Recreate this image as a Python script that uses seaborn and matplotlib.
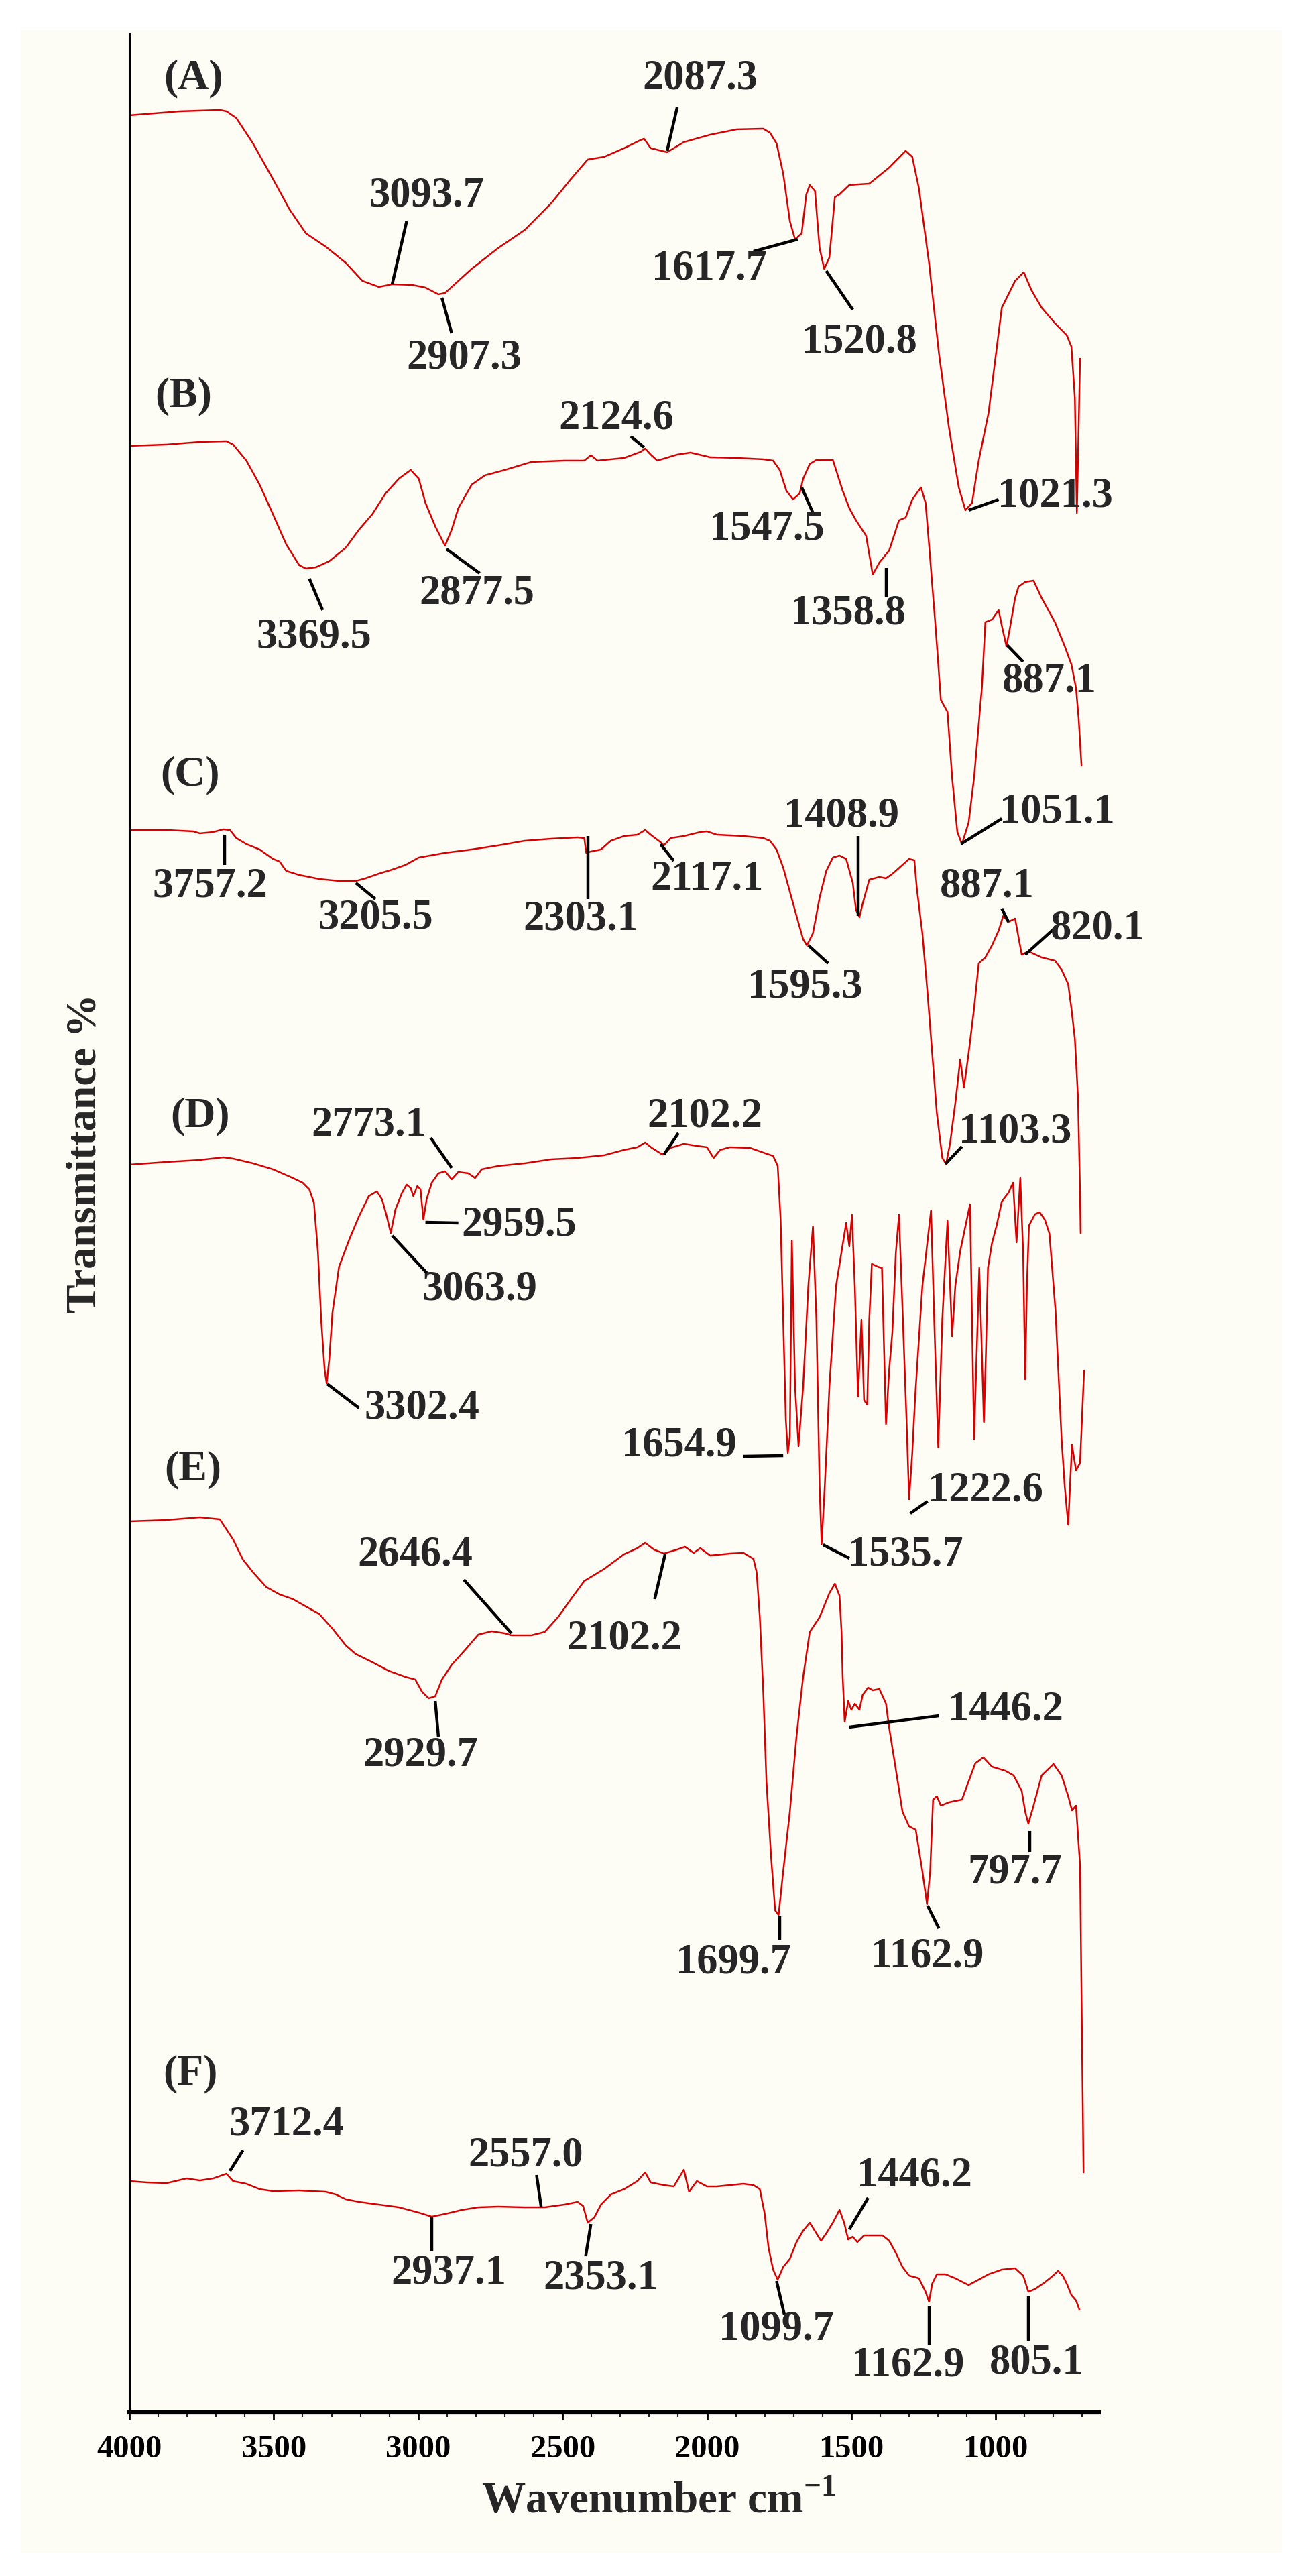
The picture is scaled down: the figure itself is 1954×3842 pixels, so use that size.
import matplotlib
matplotlib.use("Agg")
import matplotlib.pyplot as plt
from matplotlib.patches import Rectangle
from matplotlib.ticker import MultipleLocator
import seaborn as sns

sns.set_theme(style="white")
plt.rcParams["font.family"] = ["Liberation Serif", "DejaVu Serif"]
plt.rcParams["font.weight"] = "bold"
plt.rcParams["mathtext.fontset"] = "custom"
plt.rcParams["mathtext.rm"] = "Liberation Serif:bold"
plt.rcParams["mathtext.bf"] = "Liberation Serif:bold"

# spectra (wavenumber cm-1, stacked transmittance in arbitrary units)
wn_a = [3999, 3825, 3687, 3664, 3630, 3572, 3503, 3446, 3389, 3320, 3251, 3193, 3136, 3090, 3021,
        2975, 2930, 2907, 2861, 2815, 2723, 2631, 2539, 2471, 2413, 2356, 2287, 2230, 2218, 2195,
        2138, 2080, 1989, 1897, 1805, 1782, 1759, 1736, 1713, 1695, 1672, 1656, 1644, 1626, 1610,
        1594, 1576, 1557, 1541, 1507, 1438, 1369, 1312, 1289, 1266, 1231, 1197, 1162, 1128, 1105,
        1082, 1059, 1025, 979, 933, 903, 876, 841, 795, 754, 738, 726, 719, 708]
tr_a = [342.6, 343.2, 343.4, 343.2, 342.2, 338.4, 333.1, 328.6, 325.0, 323.0, 320.6, 317.9, 317.0, 317.4, 317.3,
        316.9, 315.9, 316.1, 317.9, 319.7, 322.8, 325.5, 329.5, 333.1, 336.0, 336.4, 337.7, 338.9, 339.1, 337.7,
        337.1, 338.6, 339.7, 340.5, 340.6, 340.0, 338.4, 333.9, 326.8, 324.1, 325.0, 330.8, 332.2, 331.3, 322.8,
        319.7, 321.4, 330.4, 330.8, 332.2, 332.4, 334.8, 337.3, 336.4, 331.7, 320.6, 307.2, 296.0, 287.1, 283.7,
        284.8, 291.1, 298.2, 313.9, 317.9, 319.2, 316.5, 313.9, 311.6, 309.8, 308.1, 300.5, 283.3, 306.3]

wn_b = [3999, 3871, 3756, 3664, 3641, 3595, 3549, 3503, 3457, 3412, 3389, 3354, 3308, 3251, 3205,
        3159, 3113, 3067, 3026, 2998, 2975, 2941, 2907, 2884, 2861, 2815, 2769, 2700, 2608, 2494,
        2425, 2402, 2379, 2287, 2230, 2214, 2195, 2172, 2103, 2057, 1989, 1897, 1805, 1771, 1748,
        1725, 1702, 1679, 1667, 1644, 1621, 1564, 1553, 1530, 1507, 1484, 1449, 1426, 1403, 1369,
        1335, 1312, 1289, 1259, 1243, 1231, 1208, 1190, 1167, 1151, 1133, 1117, 1094, 1075, 1048,
        1036, 1013, 990, 979, 963, 951, 933, 921, 898, 869, 841, 795, 761, 738, 722, 713, 703]
tr_b = [293.3, 293.5, 293.9, 294.0, 293.5, 291.1, 287.5, 283.1, 278.6, 275.5, 275.0, 275.2, 276.1, 278.1, 280.8,
        283.1, 286.2, 288.4, 289.7, 288.4, 284.8, 281.3, 278.4, 280.8, 284.0, 287.5, 288.9, 289.7, 290.9, 291.1,
        291.1, 291.9, 291.1, 291.5, 292.4, 292.9, 292.0, 291.1, 292.0, 292.3, 291.6, 291.5, 291.3, 291.1, 289.7,
        286.6, 285.3, 286.2, 288.4, 290.6, 291.2, 291.2, 289.7, 286.6, 284.0, 282.2, 279.9, 274.1, 275.9, 277.7,
        282.2, 282.6, 285.3, 287.1, 284.8, 278.6, 266.1, 255.4, 253.6, 243.8, 235.7, 233.9, 237.1, 243.8, 257.2,
        267.0, 267.4, 268.8, 266.5, 263.4, 266.1, 270.6, 272.3, 273.0, 273.2, 270.6, 267.0, 263.4, 260.7, 257.2,
        252.7, 245.6]

wn_c = [3999, 3871, 3779, 3756, 3710, 3675, 3652, 3630, 3595, 3549, 3503, 3480, 3457, 3412, 3343,
        3274, 3216, 3182, 3136, 3090, 3044, 2998, 2907, 2815, 2723, 2631, 2539, 2448, 2425, 2418,
        2402, 2367, 2333, 2287, 2241, 2214, 2195, 2161, 2149, 2126, 2080, 2023, 2000, 1966, 1874,
        1805, 1782, 1759, 1736, 1713, 1690, 1667, 1654, 1633, 1610, 1587, 1564, 1541, 1518, 1495,
        1484, 1472, 1461, 1438, 1403, 1380, 1357, 1323, 1300, 1282, 1273, 1254, 1236, 1220, 1204,
        1185, 1172, 1158, 1139, 1123, 1110, 1094, 1075, 1059, 1036, 1013, 990, 974, 956, 933,
        910, 887, 841, 795, 772, 749, 738, 726, 715, 708, 706]
tr_c = [236.0, 236.0, 235.8, 235.5, 235.7, 236.1, 236.0, 234.8, 233.9, 233.1, 231.7, 231.3, 229.9, 229.3, 228.7,
        228.4, 228.4, 228.8, 229.5, 230.1, 230.8, 231.9, 232.6, 233.1, 233.7, 234.4, 234.7, 234.9, 234.8, 232.6,
        232.8, 233.1, 234.4, 235.1, 235.3, 236.0, 235.3, 234.2, 233.7, 234.8, 235.1, 235.7, 235.8, 235.3, 235.1,
        234.8, 234.4, 233.1, 230.4, 226.8, 223.2, 219.7, 218.8, 220.6, 225.9, 229.9, 231.9, 232.2, 231.7, 228.1,
        224.1, 223.0, 225.0, 228.6, 229.0, 228.8, 229.5, 230.8, 231.7, 231.5, 227.2, 220.6, 211.6, 202.7, 193.8,
        187.1, 186.2, 189.3, 195.6, 201.8, 197.6, 202.7, 209.4, 216.1, 217.0, 218.8, 221.0, 223.2, 222.3, 222.8,
        217.4, 217.9, 217.0, 216.5, 215.2, 213.0, 209.4, 204.9, 196.0, 181.8, 175.9]

wn_d = [3999, 3871, 3756, 3675, 3641, 3572, 3503, 3434, 3400, 3377, 3361, 3347, 3336, 3324, 3317,
        3308, 3297, 3274, 3239, 3205, 3171, 3143, 3125, 3109, 3095, 3079, 3056, 3040, 3026, 3017,
        3003, 2992, 2982, 2971, 2953, 2930, 2907, 2884, 2861, 2826, 2803, 2780, 2723, 2631, 2539,
        2448, 2356, 2287, 2241, 2214, 2191, 2154, 2126, 2080, 2035, 2000, 1977, 1954, 1920, 1851,
        1805, 1771, 1755, 1745, 1736, 1727, 1720, 1713, 1706, 1695, 1683, 1667, 1649, 1633, 1621,
        1610, 1603, 1592, 1576, 1553, 1518, 1507, 1498, 1488, 1477, 1465, 1456, 1445, 1438, 1429,
        1410, 1394, 1380, 1369, 1358, 1346, 1335, 1321, 1309, 1300, 1289, 1279, 1254, 1224, 1213,
        1199, 1185, 1167, 1151, 1140, 1123, 1105, 1089, 1082, 1075, 1066, 1057, 1048, 1041, 1034,
        1027, 1013, 997, 979, 956, 940, 928, 915, 905, 898, 892, 885, 864, 848, 830,
        814, 793, 772, 761, 749, 736, 722, 708, 694]
tr_d = [186.1, 186.5, 186.8, 187.2, 187.0, 186.3, 185.4, 184.1, 183.4, 182.4, 180.4, 172.9, 163.0, 155.5, 153.5,
        157.0, 164.0, 170.9, 174.9, 178.4, 181.4, 182.1, 180.9, 178.4, 175.9, 179.4, 181.9, 183.1, 182.6, 181.4,
        182.9, 182.4, 177.9, 180.9, 183.4, 184.8, 185.1, 183.9, 185.0, 184.8, 184.1, 185.4, 185.9, 186.3, 186.9,
        187.1, 187.5, 188.3, 188.7, 189.4, 188.6, 187.6, 188.6, 189.2, 188.9, 188.7, 187.1, 188.3, 188.7, 188.6,
        187.9, 187.4, 185.9, 177.9, 163.0, 148.1, 143.1, 145.6, 174.8, 153.0, 144.1, 153.0, 168.0, 176.9, 163.0,
        138.1, 129.5, 138.1, 153.0, 168.0, 177.4, 173.9, 178.6, 168.0, 151.5, 163.0, 151.0, 150.3, 163.0, 171.3,
        170.9, 170.7, 147.4, 155.5, 161.1, 172.9, 178.6, 162.4, 148.1, 136.2, 143.1, 151.5, 168.0, 179.3, 163.0,
        143.9, 163.0, 177.7, 160.5, 168.0, 173.2, 176.9, 180.2, 163.0, 145.2, 158.0, 170.7, 158.0, 147.7, 158.0,
        170.7, 174.4, 177.0, 180.6, 181.9, 183.4, 174.5, 184.1, 172.9, 154.1, 168.0, 177.0, 178.7, 179.0, 177.9,
        175.8, 164.3, 145.2, 138.1, 132.4, 144.3, 140.5, 141.6, 155.4]

wn_e = [3999, 3871, 3756, 3687, 3641, 3607, 3572, 3526, 3480, 3434, 3389, 3343, 3297, 3251, 3216,
        3159, 3102, 3044, 3010, 2987, 2964, 2941, 2918, 2884, 2838, 2792, 2746, 2700, 2677, 2608,
        2562, 2516, 2471, 2425, 2356, 2287, 2241, 2214, 2184, 2149, 2103, 2076, 2046, 2023, 1989,
        1920, 1874, 1839, 1828, 1817, 1805, 1794, 1778, 1764, 1752, 1736, 1713, 1690, 1667, 1644,
        1610, 1576, 1557, 1541, 1534, 1530, 1523, 1511, 1500, 1488, 1472, 1461, 1442, 1426, 1403,
        1380, 1369, 1346, 1323, 1300, 1277, 1254, 1238, 1227, 1217, 1204, 1190, 1162, 1117, 1094,
        1071, 1043, 1013, 967, 938, 910, 898, 887, 869, 841, 800, 772, 749, 736, 722, 708, 696]
tr_e = [132.9, 133.1, 133.5, 133.2, 130.2, 127.2, 125.3, 123.1, 122.0, 121.3, 120.2, 119.1, 116.9, 114.4, 113.1,
        111.9, 110.6, 109.7, 109.3, 107.5, 106.5, 106.8, 109.3, 111.5, 113.7, 116.0, 116.5, 116.2, 115.9, 115.9,
        116.4, 118.6, 121.3, 124.0, 125.8, 128.0, 128.9, 129.7, 128.7, 128.1, 128.7, 129.1, 128.2, 128.9, 127.8,
        128.1, 128.2, 127.3, 125.3, 118.6, 107.5, 94.1, 82.9, 74.9, 74.2, 80.7, 89.6, 100.8, 109.7, 116.4,
        118.6, 122.2, 123.6, 121.8, 116.4, 109.7, 103.0, 106.1, 104.8, 105.7, 104.8, 107.0, 108.1, 107.7, 107.9,
        105.7, 102.1, 95.9, 89.6, 87.4, 86.9, 80.7, 75.8, 80.7, 91.4, 91.9, 90.5, 91.0, 91.4, 94.1,
        96.8, 97.7, 96.3, 95.7, 95.0, 92.7, 89.6, 87.8, 90.5, 95.0, 96.7, 95.0, 91.9, 89.8, 90.5, 81.6, 35.8]

wn_f = [3999, 3939, 3871, 3802, 3756, 3710, 3664, 3641, 3595, 3549, 3503, 3412, 3320, 3285, 3251,
        3205, 3136, 3067, 2998, 2953, 2907, 2849, 2792, 2723, 2631, 2562, 2494, 2448, 2429, 2413,
        2390, 2367, 2333, 2287, 2241, 2214, 2195, 2149, 2115, 2080, 2062, 2035, 2000, 1966, 1920,
        1874, 1839, 1817, 1800, 1787, 1771, 1755, 1736, 1713, 1690, 1667, 1644, 1621, 1605, 1587,
        1564, 1541, 1525, 1511, 1495, 1479, 1456, 1426, 1392, 1369, 1346, 1323, 1300, 1266, 1243,
        1231, 1220, 1204, 1174, 1140, 1094, 1059, 1025, 979, 933, 905, 887, 864, 830, 807,
        784, 768, 754, 738, 722, 710]
tr_f = [34.5, 34.3, 34.2, 34.9, 34.6, 34.9, 35.6, 34.5, 34.1, 33.3, 33.0, 33.1, 32.9, 32.5, 31.8,
        31.4, 31.0, 30.6, 29.8, 29.2, 29.6, 30.2, 30.6, 30.7, 30.6, 30.6, 31.0, 31.4, 30.8, 28.3,
        29.1, 31.0, 32.5, 33.3, 34.5, 35.8, 34.3, 33.9, 33.7, 36.2, 32.9, 34.5, 33.7, 33.7, 33.9,
        34.1, 33.9, 33.3, 29.6, 24.6, 21.3, 19.8, 21.7, 22.9, 25.4, 27.1, 28.3, 26.7, 25.6, 26.7,
        28.3, 30.2, 28.3, 25.8, 26.2, 25.4, 26.4, 26.4, 26.4, 25.6, 23.8, 21.7, 20.4, 20.0, 18.0,
        16.5, 19.2, 20.6, 20.6, 20.0, 19.0, 19.8, 20.6, 21.3, 21.5, 20.4, 18.0, 18.4, 19.4, 20.2,
        21.1, 20.4, 19.2, 17.5, 16.7, 15.3]

spectra = [(wn_a, tr_a), (wn_b, tr_b), (wn_c, tr_c), (wn_d, tr_d), (wn_e, tr_e), (wn_f, tr_f)]

# panel letters: text, x, y
panel_labels = [("(A)", 3779, 348.0), ("(B)", 3813, 300.7), ("(C)", 3790, 244.2),
                ("(D)", 3756, 193.3), ("(E)", 3779, 140.6), ("(F)", 3790, 50.5)]

# peak labels: text, text x, text y, leader line x0, y0, x1, y1
peak_labels = [
    ("2087.3", 2023, 348.0, 2103, 343.8, 2138, 337.3),
    ("3093.7", 2971, 330.5, 3040, 326.8, 3090, 317.4),
    ("2907.3", 2842, 306.3, 2918, 315.4, 2884, 310.1),
    ("1617.7", 1993, 319.6, 1839, 322.3, 1686, 324.1),
    ("1520.8", 1472, 308.7, 1587, 319.4, 1495, 313.6),
    ("1021.3", 795, 285.7, 990, 285.3, 1094, 283.7),
    ("2124.6", 2314, 297.3, 2264, 294.7, 2218, 293.1),
    ("3369.5", 3361, 264.7, 3377, 273.5, 3331, 268.8),
    ("2877.5", 2796, 271.2, 2902, 277.9, 2787, 274.3),
    ("1547.5", 1793, 280.8, 1672, 287.1, 1633, 283.3),
    ("1358.8", 1511, 268.2, 1380, 275.1, 1380, 270.8),
    ("887.1", 814, 258.1, 961, 263.6, 905, 261.1),
    ("1051.1", 788, 238.6, 979, 237.7, 1121, 233.9),
    ("3757.2", 3721, 227.5, 3671, 235.3, 3671, 230.8),
    ("3205.5", 3148, 222.8, 3216, 228.1, 3148, 225.7),
    ("2303.1", 2436, 222.6, 2413, 235.1, 2413, 225.7),
    ("2117.1", 2000, 228.6, 2161, 233.9, 2115, 231.4),
    ("1408.9", 1534, 238.0, 1477, 235.1, 1477, 223.2),
    ("1595.3", 1660, 212.5, 1649, 218.8, 1580, 216.1),
    ("887.1", 1029, 227.5, 979, 224.3, 956, 222.3),
    ("820.1", 646, 221.2, 795, 221.4, 898, 217.4),
    ("1103.3", 933, 190.9, 1117, 188.8, 1174, 186.2),
    ("2773.1", 3171, 191.9, 2957, 190.1, 2884, 185.6),
    ("2102.2", 2007, 193.2, 2099, 190.8, 2149, 187.6),
    ("2959.5", 2650, 177.0, 2975, 177.5, 2861, 177.4),
    ("3063.9", 2787, 167.4, 3090, 175.5, 2969, 169.9),
    ("3302.4", 2987, 149.7, 3315, 153.4, 3205, 149.8),
    ("1654.9", 2096, 144.1, 1874, 142.6, 1736, 142.7),
    ("1535.7", 1312, 127.9, 1598, 129.4, 1507, 127.4),
    ("1222.6", 1036, 137.4, 1296, 134.1, 1236, 135.9),
    ("2646.4", 3010, 127.9, 2842, 124.2, 2677, 116.2),
    ("2102.2", 2287, 115.4, 2181, 121.3, 2145, 128.0),
    ("2929.7", 2992, 98.0, 2941, 106.1, 2930, 100.8),
    ("1699.7", 1908, 67.1, 1748, 74.0, 1748, 70.4),
    ("1446.2", 967, 104.8, 1507, 102.2, 1197, 103.9),
    ("1162.9", 1236, 68.0, 1236, 75.6, 1197, 72.2),
    ("797.7", 933, 80.5, 882, 86.7, 882, 83.6),
    ("3712.4", 3457, 42.9, 3607, 39.1, 3652, 36.0),
    ("2557.0", 2627, 38.3, 2590, 35.4, 2574, 30.6),
    ("2937.1", 2895, 20.8, 2953, 29.1, 2953, 24.0),
    ("2353.1", 2367, 20.0, 2402, 28.1, 2420, 23.3),
    ("1099.7", 1759, 12.4, 1759, 19.6, 1732, 14.6),
    ("1446.2", 1282, 35.3, 1442, 32.0, 1507, 27.3),
    ("1162.9", 1305, 7.0, 1231, 15.9, 1231, 10.1),
    ("805.1", 859, 7.4, 887, 17.3, 887, 10.7),
]

fig = plt.figure(figsize=(19.54, 38.42), dpi=100)
fig.patch.set_facecolor("white")
# cream page behind the plot
fig.patches.append(Rectangle((31 / 1954, 1 - 3807 / 3842), 1881 / 1954, 3762 / 3842,
                             transform=fig.transFigure, facecolor="#fdfdf6",
                             edgecolor="none", zorder=-10))

ax = fig.add_axes([0.0988, 0.0635, 0.740, 0.9235])
ax.set_facecolor("none")

for wn, tr in spectra:
    sns.lineplot(x=wn, y=tr, ax=ax, color="#d60000", linewidth=1.8,
                 sort=False, estimator=None, legend=False)

for txt, x, y in panel_labels:
    ax.text(x, y, txt, fontsize=46, fontweight="bold", ha="center", va="center")

for txt, tx, ty, x0, y0, x1, y1 in peak_labels:
    ax.plot([x0, x1], [y0, y1], color="black", linewidth=3.2, solid_capstyle="butt")
    ax.text(tx, ty, txt, fontsize=45, fontweight="bold", ha="center", va="center")

ax.set_xlim(4000, 643)
ax.set_ylim(0, 354.8)
ax.set_yticks([])
ax.set_xlabel("")
ax.set_ylabel("")

ax.xaxis.set_major_locator(MultipleLocator(500))
ax.xaxis.set_minor_locator(MultipleLocator(100))
ax.tick_params(axis="x", which="major", bottom=True, direction="out", length=8, width=2,
               labelsize=35, pad=16, colors="black")
ax.tick_params(axis="x", which="minor", bottom=True, direction="out", length=5, width=1.5)
for lab in ax.get_xticklabels():
    lab.set_fontweight("bold")

ax.spines["top"].set_visible(False)
ax.spines["right"].set_visible(False)
ax.spines["bottom"].set_linewidth(4.5)
ax.spines["left"].set_linewidth(2.2)
ax.spines["bottom"].set_color("black")
ax.spines["left"].set_color("black")

fig.text(0.503, 1 - 3748 / 3842, r"Wavenumber cm$^{\mathbf{-1}}$", fontsize=47,
         fontweight="bold", ha="center", va="baseline")
fig.text(0.0655, 1 - 1720 / 3842, "Transmittance %", fontsize=46, fontweight="bold",
         rotation=90, ha="center", va="center")

fig.savefig("out.png", dpi=100)
